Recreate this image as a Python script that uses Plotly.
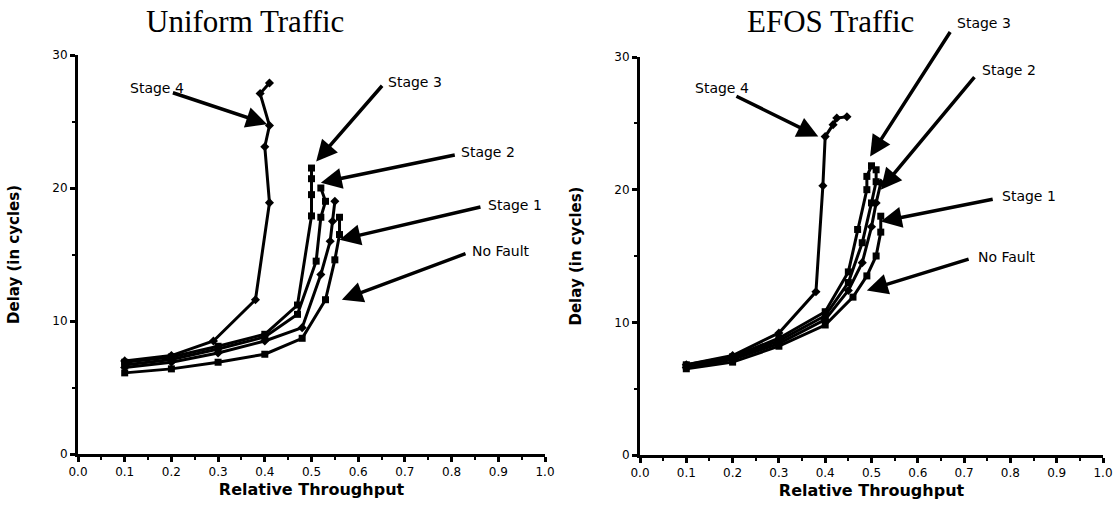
import plotly.graph_objects as go

# ---------------- data ----------------
series_names = ["No Fault", "Stage 1", "Stage 2", "Stage 3", "Stage 4"]
series_symbols = ["square", "diamond", "square", "square", "diamond"]

# Uniform traffic
uni_nofault_x = [0.10, 0.20, 0.30, 0.40, 0.48, 0.53, 0.55, 0.56, 0.56]
uni_nofault_y = [6.1, 6.4, 6.9, 7.5, 8.7, 11.6, 14.6, 16.5, 17.8]
uni_s1_x = [0.10, 0.20, 0.30, 0.40, 0.48, 0.52, 0.54, 0.545, 0.55]
uni_s1_y = [6.5, 6.9, 7.6, 8.5, 9.5, 13.5, 16.0, 17.5, 19.0]
uni_s2_x = [0.10, 0.20, 0.30, 0.40, 0.47, 0.51, 0.52, 0.53, 0.52]
uni_s2_y = [6.7, 7.1, 7.9, 8.8, 10.5, 14.5, 17.8, 19.0, 20.0]
uni_s3_x = [0.10, 0.20, 0.30, 0.40, 0.47, 0.50, 0.50, 0.50, 0.50]
uni_s3_y = [6.9, 7.3, 8.1, 9.0, 11.2, 17.9, 19.5, 20.7, 21.5]
uni_s4_x = [0.10, 0.20, 0.29, 0.38, 0.41, 0.40, 0.41, 0.39, 0.41]
uni_s4_y = [7.0, 7.4, 8.5, 11.6, 18.9, 23.1, 24.7, 27.1, 27.9]

# EFOS traffic
efos_nofault_x = [0.10, 0.20, 0.30, 0.40, 0.46, 0.49, 0.51, 0.52, 0.52]
efos_nofault_y = [6.5, 7.0, 8.2, 9.8, 11.9, 13.5, 15.0, 16.8, 18.0]
efos_s1_x = [0.10, 0.20, 0.30, 0.40, 0.45, 0.48, 0.50, 0.51, 0.52]
efos_s1_y = [6.6, 7.2, 8.4, 10.2, 12.4, 14.5, 17.2, 19.0, 20.5]
efos_s2_x = [0.10, 0.20, 0.30, 0.40, 0.45, 0.48, 0.50, 0.51, 0.51]
efos_s2_y = [6.7, 7.3, 8.6, 10.5, 13.0, 16.0, 19.0, 20.6, 21.5]
efos_s3_x = [0.10, 0.20, 0.30, 0.40, 0.45, 0.47, 0.49, 0.49, 0.50]
efos_s3_y = [6.8, 7.4, 8.8, 10.8, 13.8, 17.0, 20.0, 21.0, 21.8]
efos_s4_x = [0.10, 0.20, 0.30, 0.38, 0.395, 0.40, 0.417, 0.425, 0.447]
efos_s4_y = [6.8, 7.5, 9.2, 12.3, 20.3, 24.0, 24.9, 25.4, 25.5]

titles = ["Uniform Traffic", "EFOS Traffic"]
x_title = "Relative Throughput"
y_title = "Delay (in cycles)"

uni = [(uni_nofault_x, uni_nofault_y), (uni_s1_x, uni_s1_y), (uni_s2_x, uni_s2_y),
       (uni_s3_x, uni_s3_y), (uni_s4_x, uni_s4_y)]
efos = [(efos_nofault_x, efos_nofault_y), (efos_s1_x, efos_s1_y), (efos_s2_x, efos_s2_y),
        (efos_s3_x, efos_s3_y), (efos_s4_x, efos_s4_y)]

fig = go.Figure()

for panel, (xa, ya) in zip([uni, efos], [("x", "y"), ("x2", "y2")]):
    for (xs, ys), name, sym in zip(panel, series_names, series_symbols):
        fig.add_trace(go.Scatter(
            x=xs, y=ys, mode="lines+markers", name=name,
            xaxis=xa, yaxis=ya, showlegend=False,
            line=dict(color="black", width=3),
            marker=dict(symbol=sym, size=7, color="black"),
        ))

W, H = 1118, 510
def dom_x(a, b):
    return [a / W, b / W]
def dom_y(bottom_px, top_px):
    return [(H - bottom_px) / H, (H - top_px) / H]

tickfont = dict(family="DejaVu Sans", size=12, color="black")
axis_common = dict(
    showgrid=False, zeroline=False, showline=True, linecolor="black", linewidth=3,
    ticks="outside", tickcolor="black", tickwidth=3, ticklen=5,
    tickfont=tickfont, automargin=False,
)
xcommon = dict(axis_common, range=[0, 1.0], dtick=0.1, tick0=0, tickformat=".1f",
               minor=dict(dtick=0.05, ticks="outside", ticklen=3, tickwidth=2, tickcolor="black"),
               title=dict(text="<b>" + x_title + "</b>", font=dict(family="DejaVu Sans", size=16, color="black"), standoff=6))
ycommon = dict(axis_common, range=[0, 30], dtick=10, tick0=0,
               minor=dict(dtick=5, ticks="outside", ticklen=3, tickwidth=2, tickcolor="black"),
               title=dict(text="<b>" + y_title + "</b>", font=dict(family="DejaVu Sans", size=15, color="black"), standoff=30))

fig.update_layout(
    width=W, height=H,
    margin=dict(l=0, r=0, t=0, b=0, autoexpand=False),
    paper_bgcolor="white", plot_bgcolor="white",
    xaxis=dict(xcommon, domain=dom_x(78, 545), anchor="y"),
    yaxis=dict(ycommon, domain=dom_y(454, 55), anchor="x"),
    xaxis2=dict(xcommon, domain=dom_x(640, 1103), anchor="y2"),
    yaxis2=dict(ycommon, domain=dom_y(455, 57), anchor="x2"),
)

# titles
fig.add_annotation(text=titles[0], xref="paper", yref="paper", x=245 / W, y=(H - 22) / H,
                   xanchor="center", yanchor="middle",
                   showarrow=False, font=dict(family="Liberation Serif", size=31, color="black"))
fig.add_annotation(text=titles[1], xref="paper", yref="paper", x=830 / W, y=(H - 22) / H,
                   xanchor="center", yanchor="middle",
                   showarrow=False, font=dict(family="Liberation Serif", size=31, color="black"))

labfont = dict(family="DejaVu Sans", size=14, color="black")

def label(text, xr, yr, x, y, tail, head):
    # text placed in axis-domain coordinates so it may sit outside the data range
    xa = fig.layout[("xaxis" if xr == "x" else "xaxis2")]
    ya = fig.layout[("yaxis" if yr == "y" else "yaxis2")]
    xd = (x - xa.range[0]) / (xa.range[1] - xa.range[0])
    yd = (y - ya.range[0]) / (ya.range[1] - ya.range[0])
    fig.add_annotation(text=text, xref=xr + " domain", yref=yr + " domain", x=xd, y=yd,
                       xanchor="left", yanchor="middle", showarrow=False, font=labfont)
    fig.add_annotation(text="", xref=xr, yref=yr, axref=xr, ayref=yr,
                       x=head[0], y=head[1], ax=tail[0], ay=tail[1],
                       showarrow=True, arrowhead=2, arrowsize=1.2, arrowwidth=3.5, arrowcolor="black")

# Uniform panel
label("Stage 4", "x", "y", 0.107, 27.5, (0.20, 27.2), (0.405, 24.8))
label("Stage 3", "x", "y", 0.659, 28.0, (0.654, 27.8), (0.51, 22.0))
label("Stage 2", "x", "y", 0.815, 22.7, (0.81, 22.5), (0.52, 20.4))
label("Stage 1", "x", "y", 0.873, 18.7, (0.865, 18.6), (0.56, 16.1))
label("No Fault", "x", "y", 0.84, 15.3, (0.833, 15.1), (0.565, 11.6))

# EFOS panel
label("Stage 4", "x2", "y2", 0.114, 27.7, (0.205, 27.1), (0.385, 24.0))
label("Stage 3", "x2", "y2", 0.68, 32.6, (0.672, 32.0), (0.497, 22.5))
label("Stage 2", "x2", "y2", 0.734, 29.0, (0.725, 28.6), (0.52, 20.0))
label("Stage 1", "x2", "y2", 0.778, 19.5, (0.765, 19.3), (0.52, 17.6))
label("No Fault", "x2", "y2", 0.726, 14.9, (0.713, 14.8), (0.49, 12.4))

fig.write_html("out.html", config={"displayModeBar": False},
               post_script="document.body.style.margin='0';")
